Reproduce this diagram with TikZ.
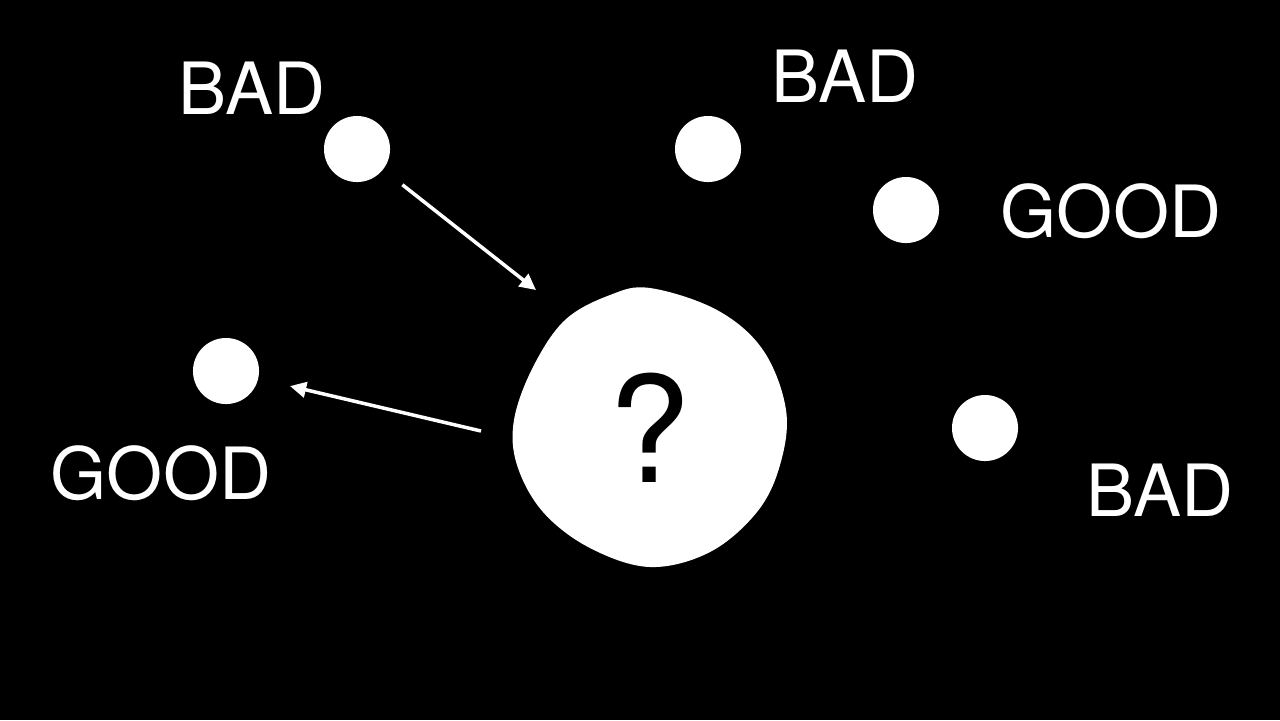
\documentclass[tikz,border=0pt]{standalone}
\usepackage{fontspec}
\setmainfont{TeX Gyre Heros}
\usetikzlibrary{arrows.meta,positioning,calc}

\begin{document}
\begin{tikzpicture}[x=0.01cm,y=-0.01cm,
    datapoint/.style={circle,fill=white,minimum size=0.66cm,inner sep=0pt},
    verdict/.style={text=white,inner sep=0pt,font=\fontsize{20.5}{24}\selectfont},
    pull/.style={-{Triangle[length=4.6pt,width=4.4pt]},white,line width=1pt}]
    % Background
    \fill[black] (0,0) rectangle (1280,720);
    \useasboundingbox (0,0) rectangle (1280,720);

    % Known points
    \foreach \i/\x/\y in {1/357/149,2/708/149,3/906/210,4/226/371,5/985/428} {
        \node[datapoint] (p\i) at (\x,\y) {};
    }

    % Labels
    \foreach \i/\x/\y/\label in {1/252/88/BAD,2/845/76/BAD,3/1111/211/GOOD,4/161/473/GOOD,5/1160/490/BAD} {
        \node[verdict] (l\i) at (\x,\y) {\label};
    }

    % Unknown point
    \fill[white] plot[smooth cycle,tension=0.6] coordinates {
        (650,288) (717,310) (763,350) (786,410) (780,465) (757,512)
        (710,552) (650,567) (590,548) (543,512) (517,465) (514,420)
        (533,367) (565,320) (610,295)};
    \node[inner sep=0pt,font=\fontsize{42}{48}\selectfont] (q) at (650,428) {?};

    % Arrows
    \coordinate (qin) at (536,290);
    \coordinate (qout) at (481,431);
    \draw[pull,shorten <=0.24cm] (p1) -- (qin);
    \draw[pull,shorten >=0.32cm] (qout) -- (p4);
\end{tikzpicture}
\end{document}
